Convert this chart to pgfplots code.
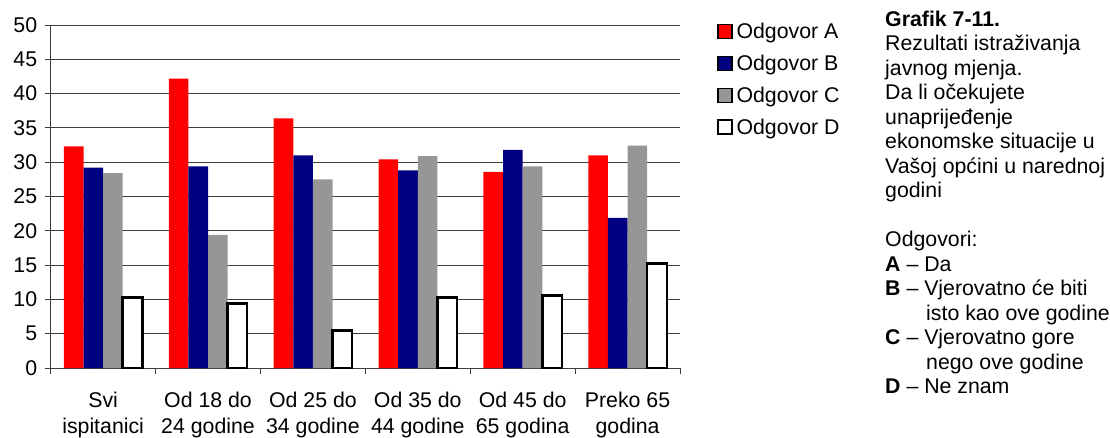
\documentclass[border=0pt]{standalone}
\usepackage{fontspec}
\setmainfont{Liberation Sans}
\usepackage{pgfplots}
\pgfplotsset{compat=1.18}
\definecolor{cA}{RGB}{255,0,0}
\definecolor{cB}{RGB}{0,0,128}
\definecolor{cC}{RGB}{150,150,150}
\definecolor{gridc}{RGB}{60,60,60}
\begin{document}
\begin{tikzpicture}[x=1pt,y=1pt]
\useasboundingbox (0,0) rectangle (1110,437);
\begin{axis}[
  at={(50.7pt,69pt)}, anchor=south west,
  scale only axis, width=629.3pt, height=343pt,
  xmin=-0.5, xmax=5.5, ymin=0, ymax=50,
  ytick={0,5,...,50},
  xtick={0,...,5},
  xticklabels={{Svi\\ispitanici},{Od 18 do\\24 godine},{Od 25 do\\34 godine},{Od 35 do\\44 godine},{Od 45 do\\65 godina},{Preko 65\\godina}},
  minor xtick={-0.5,0.5,...,5.5},
  axis x line*=bottom, axis y line*=left,
  axis line style={gridc, line width=1pt},
  ymajorgrids, major grid style={gridc, line width=1pt},
  tick align=outside,
  major tick length=6pt, minor tick length=6pt,
  major x tick style={draw=none},
  minor x tick style={gridc, line width=1pt},
  ytick style={gridc, line width=1pt},
  ybar=0pt, bar width=19.6pt,
  /pgf/number format/assume math mode=true,
  tick label style={font=\fontsize{21.3}{26}\selectfont},
  xticklabel style={align=center, yshift=-15pt},
  yticklabel style={xshift=-4pt},
  legend style={draw=none, fill=none, at={(1.058,1.012)}, anchor=north west,
    font=\fontsize{21.3}{24}\selectfont, inner sep=0pt, row sep=11pt,
    nodes={inner sep=2pt}},
  legend cell align=left,
  legend image code/.code={\draw[#1, line width=1.8pt] (0pt,-7pt) rectangle (14pt,7pt);},
  /tikz/every odd column/.append style={column sep=2pt},
]
\addplot[fill=cA, draw=none] coordinates {(0,32.3)(1,42.2)(2,36.4)(3,30.4)(4,28.6)(5,31.0)};
\addplot[fill=cB, draw=none] coordinates {(0,29.2)(1,29.4)(2,31.0)(3,28.8)(4,31.8)(5,21.9)};
\addplot[fill=cC, draw=none] coordinates {(0,28.4)(1,19.4)(2,27.5)(3,30.9)(4,29.4)(5,32.4)};
\addplot[fill=white, draw=black, line width=2.5pt] coordinates {(0,10.3)(1,9.4)(2,5.5)(3,10.3)(4,10.6)(5,15.2)};
\legend{Odgovor A,Odgovor B,Odgovor C,Odgovor D}
\end{axis}
\node[anchor=north west, align=left, inner sep=0pt, font=\fontsize{21.3}{24.5}\selectfont] at (885,437-10.5) {%
\textbf{Grafik 7-11.}\\
Rezultati istraživanja\\
javnog mjenja.\\
Da li očekujete\\
unaprijeđenje\\
ekonomske situacije u\\
Vašoj općini u narednoj\\
godini\\
\strut\\
Odgovori:\\
\textbf{A} – Da\\
\textbf{B} – Vjerovatno će biti\\
\hspace*{41pt}isto kao ove godine\\
\textbf{C} – Vjerovatno gore\\
\hspace*{41pt}nego ove godine\\
\textbf{D} – Ne znam};
\end{tikzpicture}
\end{document}
